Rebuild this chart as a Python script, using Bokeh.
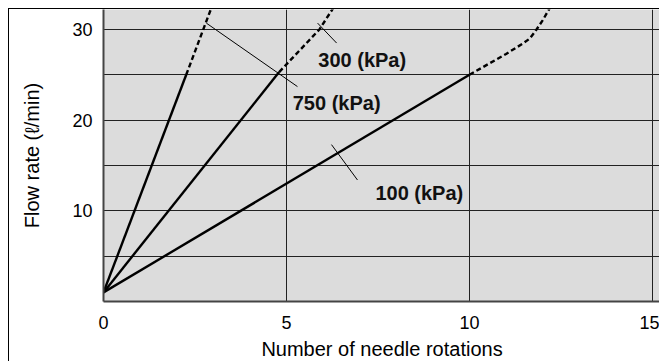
from bokeh.plotting import figure
from bokeh.models import Range1d, FixedTicker, Label
from bokeh.embed import file_html
from bokeh.resources import INLINE

# Data
x_750_solid = [0, 2.26]
y_750_solid = [1, 25]
x_750_dash = [2.26, 2.95]
y_750_dash = [25, 32.4]

x_300_solid = [0, 4.8]
y_300_solid = [1, 25.3]
x_300_dash = [4.8, 5.9, 6.3]
y_300_dash = [25.3, 30, 32.5]

x_100_solid = [0, 10]
y_100_solid = [1, 25]
x_100_dash = [10, 11.0, 11.48, 11.65, 11.8, 12.0, 12.2]
y_100_dash = [25, 27.3, 28.5, 29.0, 29.8, 31.0, 32.4]

labels = ["750 (kPa)", "300 (kPa)", "100 (kPa)"]
label_x = [5.17, 5.87, 7.43]
label_y = [21.9, 26.6, 12.0]
leader_x = [[2.81, 5.3], [5.85, 6.37], [6.23, 6.94]]
leader_y = [[30.7, 23.7], [30.7, 28.5], [17.3, 13.4]]

x_ticks = [0, 5, 10, 15]
y_ticks = [10, 20, 30]
x_grid = [5, 10, 15]
y_grid = [5, 10, 15, 20, 25, 30]

FONT = "Liberation Sans"

p = figure(width=651, height=353, output_backend="svg", toolbar_location=None,
           x_range=Range1d(0, 15.22), y_range=Range1d(0, 32.2),
           min_border_left=94, min_border_right=0, min_border_top=0, min_border_bottom=59)
p.styles = {"margin-left": "8px", "margin-top": "8px",
            "border-left": "1px solid black", "border-top": "1px solid black"}
p.background_fill_color = "#dcdcdc"
p.border_fill_color = "white"
p.outline_line_color = None

p.xaxis.ticker = FixedTicker(ticks=x_ticks)
p.yaxis.ticker = FixedTicker(ticks=y_ticks)
p.xgrid.ticker = FixedTicker(ticks=x_grid)
p.ygrid.ticker = FixedTicker(ticks=y_grid)
p.xgrid.grid_line_color = "#222222"
p.ygrid.grid_line_color = "#222222"
p.xgrid.grid_line_width = 1
p.ygrid.grid_line_width = 1.2

for ax in (p.xaxis, p.yaxis):
    ax.major_tick_line_color = None
    ax.minor_tick_line_color = None
    ax.axis_line_color = "#444444"
    ax.axis_line_width = 2
    ax.major_label_text_font = FONT
    ax.major_label_text_font_size = "18px"
    ax.major_label_text_color = "black"
    ax.axis_label_text_font = FONT
    ax.axis_label_text_font_size = "20px"
    ax.axis_label_text_font_style = "normal"
    ax.axis_label_text_color = "black"

p.xaxis.axis_label = "Number of needle rotations"
p.yaxis.axis_label = "Flow rate (ℓ/min)"
p.xaxis.major_label_standoff = 8
p.yaxis.major_label_standoff = 5
p.xaxis.axis_label_standoff = 6
p.yaxis.axis_label_standoff = 26

lw = 2.4
p.line(x_750_solid, y_750_solid, line_color="black", line_width=lw)
p.line(x_750_dash, y_750_dash, line_color="black", line_width=lw, line_dash="5 3")
p.line(x_300_solid, y_300_solid, line_color="black", line_width=lw)
p.line(x_300_dash, y_300_dash, line_color="black", line_width=lw, line_dash="5 3")
p.line(x_100_solid, y_100_solid, line_color="black", line_width=lw)
p.line(x_100_dash, y_100_dash, line_color="black", line_width=lw, line_dash="5 3")

p.multi_line(leader_x, leader_y, line_color="black", line_width=1)

for t, lx, ly in zip(labels, label_x, label_y):
    p.add_layout(Label(x=lx, y=ly, text=t, text_font=FONT, text_font_size="20px",
                       text_font_style="bold", text_color="#111111",
                       text_baseline="middle", text_align="left"))

open("out.html", "w").write(file_html(p, INLINE))
